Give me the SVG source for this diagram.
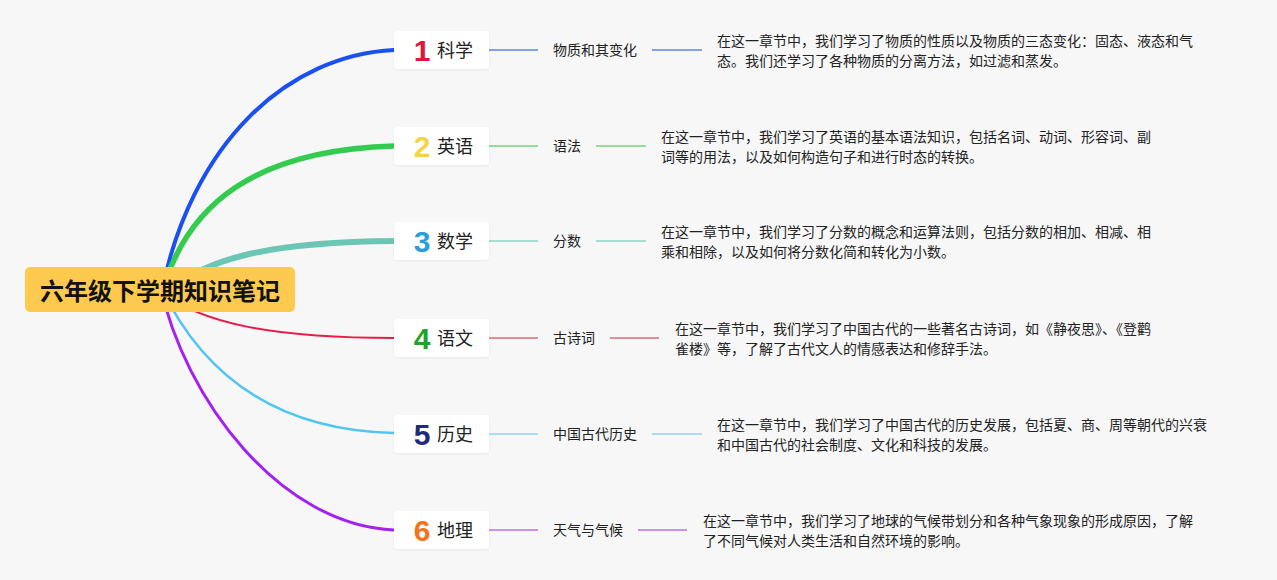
<svg xmlns="http://www.w3.org/2000/svg" width="1277" height="580" viewBox="0 0 1277 580">
<style>
text{font-family:"Noto Sans CJK SC","Liberation Sans",sans-serif}
.root{font-size:24px;font-weight:bold;fill:#111}
.num{font-family:"Liberation Sans","Noto Sans CJK SC",sans-serif;font-size:30px;font-weight:bold;text-anchor:middle}
.lbl{font-size:18px;fill:#222}
.sub{font-size:14px;fill:#222}
.desc{font-size:14px;fill:#222}
.c1{fill:#e0173a}.c2{fill:#f5d547}.c3{fill:#2a9fdc}.c4{fill:#1fa32a}.c5{fill:#1f2a7c}.c6{fill:#f5731c}
.box{fill:#fff}
.br{fill:none;stroke-linecap:round}
.ln{stroke-width:2;fill:none}
</style>
<defs>
<filter id="sh" x="-10%" y="-20%" width="120%" height="150%">
<feDropShadow dx="0" dy="1" stdDeviation="1.2" flood-color="#000" flood-opacity="0.06"/>
</filter>
</defs>
<rect width="1277" height="580" fill="#f7f7f8"/>
<g id="connectors">
<path class="br" d="M160 300 C190 140 290 55 394 50" stroke="#1a4ff2" stroke-width="4"/>
<path class="br" d="M160 300 C185 200 260 150 394 146" stroke="#33cc4f" stroke-width="5.5"/>
<path class="br" d="M160 300 C200 255 280 242 394 241" stroke="#6cc6b6" stroke-width="6"/>
<path class="br" d="M160 290 C200 325 280 338 394 338" stroke="#e81c48" stroke-width="2"/>
<path class="br" d="M160 285 C195 360 260 430 394 433" stroke="#52c5f0" stroke-width="2.5"/>
<path class="br" d="M160 285 C185 400 280 525 394 530" stroke="#a322f0" stroke-width="3"/>
<line class="ln" x1="489" y1="50" x2="538" y2="50" stroke="#85a0e8"/>
<line class="ln" x1="652" y1="50" x2="702" y2="50" stroke="#85a0e8"/>
<line class="ln" x1="489" y1="146" x2="538" y2="146" stroke="#92dc9d"/>
<line class="ln" x1="596" y1="146" x2="646" y2="146" stroke="#92dc9d"/>
<line class="ln" x1="489" y1="241" x2="538" y2="241" stroke="#a6dcd2"/>
<line class="ln" x1="596" y1="241" x2="646" y2="241" stroke="#a6dcd2"/>
<line class="ln" x1="489" y1="338" x2="538" y2="338" stroke="#e8899c"/>
<line class="ln" x1="610" y1="338" x2="659" y2="338" stroke="#e8899c"/>
<line class="ln" x1="489" y1="434" x2="538" y2="434" stroke="#a8dcf3"/>
<line class="ln" x1="652" y1="434" x2="702" y2="434" stroke="#a8dcf3"/>
<line class="ln" x1="489" y1="530" x2="538" y2="530" stroke="#d08ef0"/>
<line class="ln" x1="638" y1="530" x2="687" y2="530" stroke="#d08ef0"/>
</g>
<g id="root">
<rect x="25" y="267" width="270" height="45" rx="5" fill="#fdc94e"/>
<text class="root" x="160" y="300" text-anchor="middle">六年级下学期知识笔记</text>
</g>
<g id="n1">
<rect class="box" x="394" y="31" width="95" height="38" rx="4" filter="url(#sh)"/>
<text class="num c1" x="422" y="61">1</text>
<text class="lbl" x="437" y="56.5">科学</text>
<text class="sub" x="553" y="55">物质和其变化</text>
<text class="desc" x="717" y="46">在这一章节中，我们学习了物质的性质以及物质的三态变化：固态、液态和气</text>
<text class="desc" x="717" y="66">态。我们还学习了各种物质的分离方法，如过滤和蒸发。</text>
</g>
<g id="n2">
<rect class="box" x="394" y="127" width="95" height="38" rx="4" filter="url(#sh)"/>
<text class="num c2" x="422" y="157">2</text>
<text class="lbl" x="437" y="152.5">英语</text>
<text class="sub" x="553" y="151">语法</text>
<text class="desc" x="661" y="142">在这一章节中，我们学习了英语的基本语法知识，包括名词、动词、形容词、副</text>
<text class="desc" x="661" y="162">词等的用法，以及如何构造句子和进行时态的转换。</text>
</g>
<g id="n3">
<rect class="box" x="394" y="222" width="95" height="38" rx="4" filter="url(#sh)"/>
<text class="num c3" x="422" y="252">3</text>
<text class="lbl" x="437" y="247.5">数学</text>
<text class="sub" x="553" y="246">分数</text>
<text class="desc" x="661" y="237">在这一章节中，我们学习了分数的概念和运算法则，包括分数的相加、相减、相</text>
<text class="desc" x="661" y="257">乘和相除，以及如何将分数化简和转化为小数。</text>
</g>
<g id="n4">
<rect class="box" x="394" y="319" width="95" height="38" rx="4" filter="url(#sh)"/>
<text class="num c4" x="422" y="349">4</text>
<text class="lbl" x="437" y="344.5">语文</text>
<text class="sub" x="553" y="343">古诗词</text>
<text class="desc" x="675" y="334">在这一章节中，我们学习了中国古代的一些著名古诗词，如《静夜思》、《登鹳</text>
<text class="desc" x="675" y="354">雀楼》等，了解了古代文人的情感表达和修辞手法。</text>
</g>
<g id="n5">
<rect class="box" x="394" y="415" width="95" height="38" rx="4" filter="url(#sh)"/>
<text class="num c5" x="422" y="445">5</text>
<text class="lbl" x="437" y="440.5">历史</text>
<text class="sub" x="553" y="439">中国古代历史</text>
<text class="desc" x="717" y="430">在这一章节中，我们学习了中国古代的历史发展，包括夏、商、周等朝代的兴衰</text>
<text class="desc" x="717" y="450">和中国古代的社会制度、文化和科技的发展。</text>
</g>
<g id="n6">
<rect class="box" x="394" y="511" width="95" height="38" rx="4" filter="url(#sh)"/>
<text class="num c6" x="422" y="541">6</text>
<text class="lbl" x="437" y="536.5">地理</text>
<text class="sub" x="553" y="535">天气与气候</text>
<text class="desc" x="703" y="526">在这一章节中，我们学习了地球的气候带划分和各种气象现象的形成原因，了解</text>
<text class="desc" x="703" y="546">了不同气候对人类生活和自然环境的影响。</text>
</g>
</svg>
